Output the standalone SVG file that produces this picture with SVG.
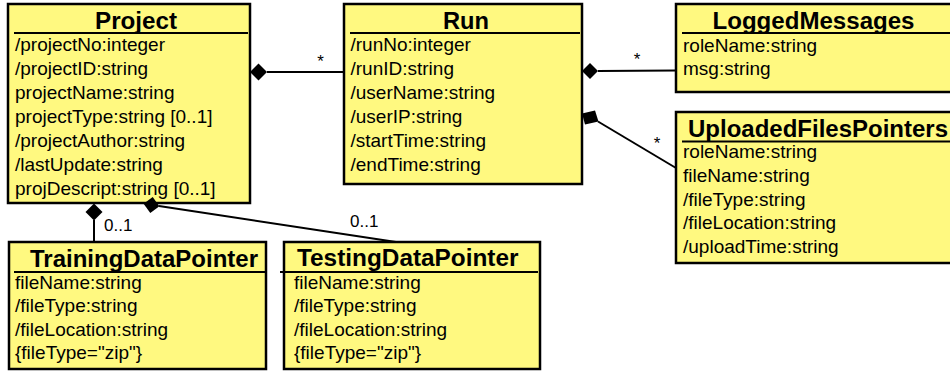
<svg xmlns="http://www.w3.org/2000/svg" width="950" height="372" viewBox="0 0 950 372">
  <style>
    .box { fill: #fff980; stroke: #000; stroke-width: 2.5; }
    .sep { stroke: #000; stroke-width: 2; }
    .title { font-family: "Liberation Sans", Arial, sans-serif; font-weight: bold; font-size: 23px; fill: #000; }
    .attr { font-family: "Liberation Sans", Arial, sans-serif; font-size: 19px; fill: #000; }
    .edge { stroke: #000; stroke-width: 2; fill: none; }
    .diamond { fill: #000; stroke: none; }
    .mult { font-family: "Liberation Sans", Arial, sans-serif; font-size: 17px; fill: #000; }
  </style>
  <rect width="950" height="372" fill="#fff"/>

  <g id="Project">
    <rect class="box" x="8" y="4" width="242" height="199"/>
    <text class="title" x="95" y="28.5" textLength="82" lengthAdjust="spacingAndGlyphs">Project</text>
    <line class="sep" x1="14" y1="33" x2="248" y2="33"/>
    <text class="attr" x="15" y="51">/projectNo:integer</text>
    <text class="attr" x="15" y="75">/projectID:string</text>
    <text class="attr" x="15" y="99">projectName:string</text>
    <text class="attr" x="15" y="123">projectType:string [0..1]</text>
    <text class="attr" x="15" y="147">/projectAuthor:string</text>
    <text class="attr" x="15" y="171">/lastUpdate:string</text>
    <text class="attr" x="15" y="195">projDescript:string [0..1]</text>
  </g>

  <g id="Run">
    <rect class="box" x="344" y="4" width="238" height="180"/>
    <text class="title" x="443" y="28.5" textLength="46" lengthAdjust="spacingAndGlyphs">Run</text>
    <line class="sep" x1="350" y1="33" x2="580" y2="33"/>
    <text class="attr" x="350.5" y="51">/runNo:integer</text>
    <text class="attr" x="350.5" y="75">/runID:string</text>
    <text class="attr" x="350.5" y="99">/userName:string</text>
    <text class="attr" x="350.5" y="123">/userIP:string</text>
    <text class="attr" x="350.5" y="147">/startTime:string</text>
    <text class="attr" x="350.5" y="171">/endTime:string</text>
  </g>

  <g id="LoggedMessages">
    <rect class="box" x="676" y="4" width="290" height="88"/>
    <text class="title" x="712.5" y="28.5" textLength="202" lengthAdjust="spacingAndGlyphs">LoggedMessages</text>
    <line class="sep" x1="682" y1="33" x2="950" y2="33"/>
    <text class="attr" x="683" y="51.5">roleName:string</text>
    <text class="attr" x="683" y="75">msg:string</text>
  </g>

  <g id="UploadedFilesPointers">
    <rect class="box" x="676" y="112" width="290" height="151"/>
    <text class="title" x="688" y="137" textLength="260" lengthAdjust="spacingAndGlyphs">UploadedFilesPointers</text>
    <line class="sep" x1="682" y1="141.5" x2="950" y2="141.5"/>
    <text class="attr" x="683" y="158">roleName:string</text>
    <text class="attr" x="683" y="182">fileName:string</text>
    <text class="attr" x="683" y="205.5">/fileType:string</text>
    <text class="attr" x="683" y="229">/fileLocation:string</text>
    <text class="attr" x="683" y="253">/uploadTime:string</text>
  </g>

  <g id="TrainingDataPointer">
    <rect class="box" x="9" y="242" width="257" height="127"/>
    <text class="title" x="30" y="266.5" textLength="228" lengthAdjust="spacingAndGlyphs">TrainingDataPointer</text>
    <line class="sep" x1="14" y1="272" x2="265" y2="272"/>
    <text class="attr" x="15" y="288.5">fileName:string</text>
    <text class="attr" x="15" y="312">/fileType:string</text>
    <text class="attr" x="15" y="335.5">/fileLocation:string</text>
    <text class="attr" x="15" y="358.5">{fileType="zip"}</text>
  </g>

  <g id="TestingDataPointer">
    <rect class="box" x="284" y="242" width="256" height="127"/>
    <text class="title" x="297" y="266" textLength="221.5" lengthAdjust="spacingAndGlyphs">TestingDataPointer</text>
    <line class="sep" x1="280" y1="272" x2="538" y2="272"/>
    <text class="attr" x="294" y="288.5">fileName:string</text>
    <text class="attr" x="294" y="312">/fileType:string</text>
    <text class="attr" x="294" y="335.5">/fileLocation:string</text>
    <text class="attr" x="294" y="358.5">{fileType="zip"}</text>
  </g>

  <!-- composition links: filled diamond on the owning class -->
  <g id="connectors">
    <g id="Project-Run">
      <line class="edge" x1="267" y1="72" x2="344" y2="72"/>
      <polygon class="diamond" points="250,72 258.5,63.5 267,72 258.5,80.5"/>
      <text class="mult" x="320.5" y="67" text-anchor="middle">*</text>
    </g>
    <g id="Run-LoggedMessages">
      <line class="edge" x1="598" y1="71" x2="676" y2="70.5"/>
      <polygon class="diamond" points="582,71 590,63 598,71 590,79"/>
      <text class="mult" x="637" y="65" text-anchor="middle">*</text>
    </g>
    <g id="Run-UploadedFilesPointers">
      <line class="edge" x1="598" y1="121.5" x2="676" y2="168"/>
      <polygon class="diamond" points="582,113.5 595,110.5 598.5,121.5 585,124.5"/>
      <text class="mult" x="657" y="149" text-anchor="middle">*</text>
    </g>
    <g id="Project-TrainingDataPointer">
      <line class="edge" x1="94" y1="220" x2="94" y2="242"/>
      <polygon class="diamond" points="94,203.5 102.5,212 94,220.5 85.5,212"/>
      <text class="mult" x="104" y="230.5">0..1</text>
    </g>
    <g id="Project-TestingDataPointer">
      <line class="edge" x1="159" y1="206" x2="396" y2="242"/>
      <polygon class="diamond" points="143.6,203.8 152.7,197.1 159.4,206.2 150.3,212.9"/>
      <text class="mult" x="350" y="226.5">0..1</text>
    </g>
  </g>
</svg>
